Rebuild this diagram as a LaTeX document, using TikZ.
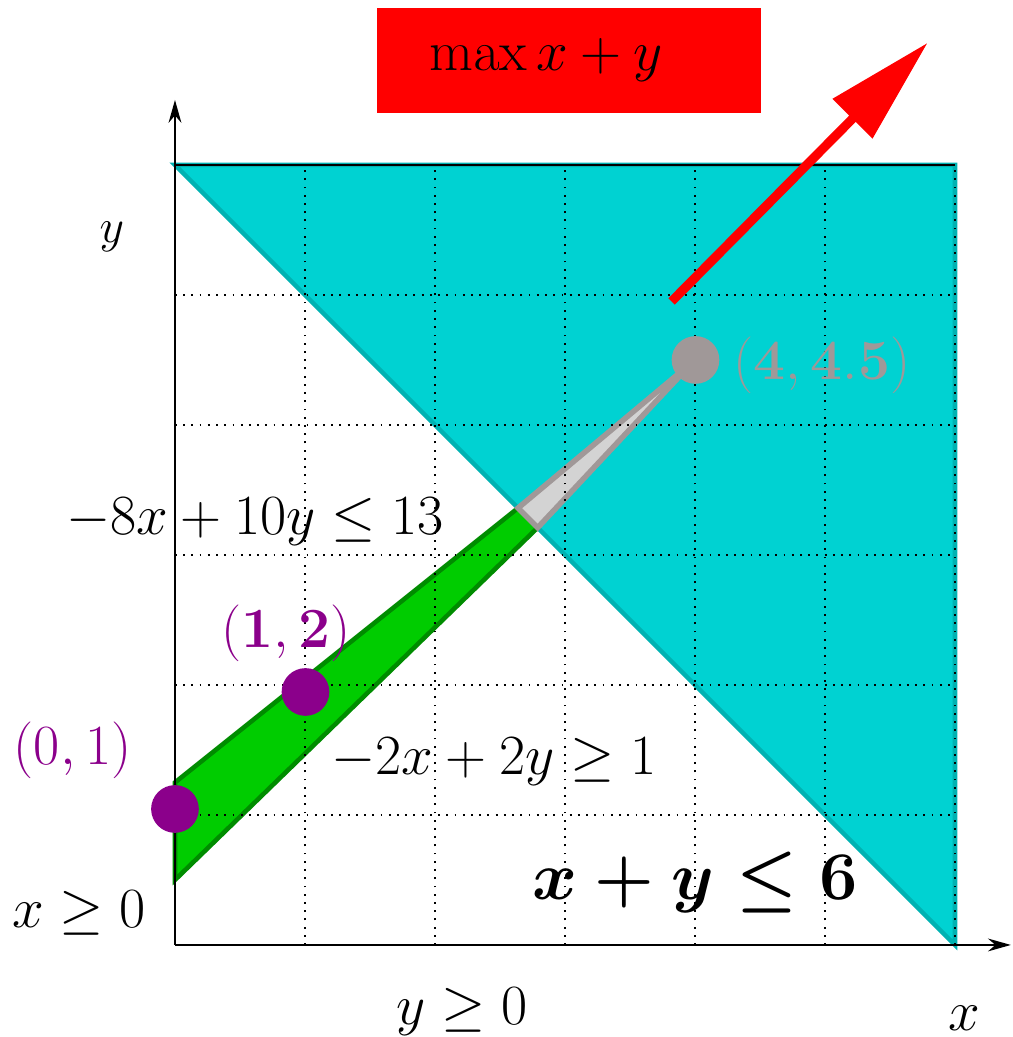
\documentclass[tikz,border=0pt]{standalone}
\usetikzlibrary{arrows.meta}
\definecolor{cyanfill}{RGB}{0,210,210}
\definecolor{cyanedge}{RGB}{0,178,178}
\definecolor{greenfill}{RGB}{0,204,0}
\definecolor{greenedge}{RGB}{0,140,0}
\definecolor{ptcolor}{RGB}{139,0,139}
\definecolor{optgray}{RGB}{160,152,152}
\definecolor{conegray}{RGB}{211,211,211}
\newcommand{\lbl}[2][0.5]{\scalebox{#1}{\Huge #2}}
\begin{document}
\begin{tikzpicture}[
  lbl/.style={inner sep=0pt, anchor=base},
  gridline/.style={line width=0.4pt, dash pattern=on 0.4pt off 1.4pt},
  axis/.style={line width=0.5pt, -{Stealth[length=5pt,width=2.8pt]}},
  dot/.style={circle, inner sep=0pt, minimum size=0.367cm},
]
\useasboundingbox (-1.346,-0.708) rectangle (6.446,7.269);
% regions
\filldraw[fill=cyanfill, draw=cyanedge, line width=1pt] (0,6) -- (6,6) -- (6,0) -- cycle;
\filldraw[fill=greenfill, draw=greenedge, line width=1pt] (0,0.5) -- (0,1.25) -- (2.639,3.361) -- (2.79,3.21) -- cycle;
\filldraw[fill=conegray, draw=optgray, line width=1.2pt] (2.639,3.361) -- (4,4.5) -- (2.79,3.21) -- cycle;
% grid
\draw[gridline] (0,0) grid (6,6);
\draw[line width=0.5pt] (0,6) -- (6,6);
% axes
\coordinate (O) at (0,0);
\coordinate (xend) at (6.43,0);
\coordinate (yend) at (0,6.5);
\draw[axis] (O) -- (xend);
\draw[axis] (O) -- (yend);
% objective arrow
\coordinate (rs) at (3.82,4.95);
\coordinate (re) at (5.79,6.94);
\draw[red, line width=2pt, -{Triangle[length=23.4pt,width=11.8pt]}] (rs) -- (re);
% points
\node[dot, fill=ptcolor] (p01) at (0,1.046) {};
\node[dot, fill=ptcolor] (p12) at (1.004,1.946) {};
\node[dot, fill=optgray] (popt) at (4.004,4.5) {};
% labels
\node[fill=red, minimum width=2.954cm, minimum height=0.808cm, inner sep=0pt] (obj) at (3.031,6.804) {\lbl{$\max x+y$}\kern10pt};
\node[lbl] (ylab) at (-0.485,5.40) {\lbl[0.42]{$y$}};
\node[lbl] (xlab) at (6.07,-0.655) {\lbl{$x$}};
\node[lbl] (c1) at (0.615,3.154) {\lbl{$-8x+10y\leq 13$}};
\node[lbl] (c2) at (2.454,1.308) {\lbl{$-2x+2y\geq 1$}};
\node[lbl] (c3) at (4.0,0.346) {\lbl[0.6]{\boldmath$x+y\leq 6$}};
\node[lbl] (cx) at (-0.738,0.138) {\lbl{$x\geq 0$}};
\node[lbl] (cy) at (2.208,-0.608) {\lbl{$y\geq 0$}};
\node[lbl, text=ptcolor] (l01) at (-0.788,1.385) {\lbl{$(0,1)$}};
\node[lbl, text=ptcolor] (l12) at (0.857,2.292) {\lbl{$(\mathbf{1},\mathbf{2})$}};
\node[lbl, text=optgray] (lopt) at (4.977,4.346) {\lbl{$(\mathbf{4},\mathbf{4.5})$}};
\end{tikzpicture}
\end{document}
